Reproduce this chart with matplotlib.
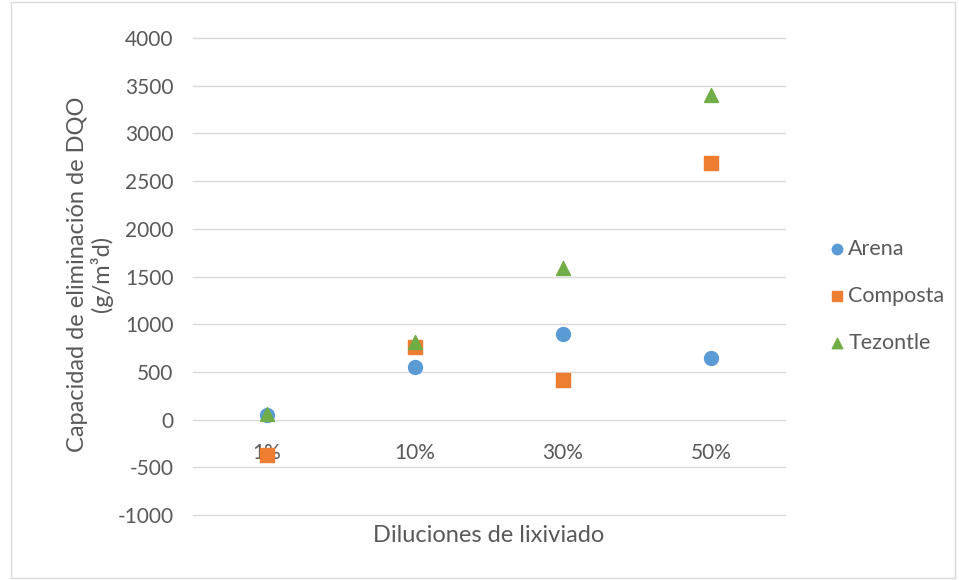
import matplotlib
matplotlib.use("Agg")
import matplotlib.pyplot as plt
from matplotlib.patches import Rectangle

plt.rcParams['font.family'] = ['Lato', 'DejaVu Sans']

categories = ["1%", "10%", "30%", "50%"]
arena = [45, 550, 900, 645]
composta = [-370, 760, 415, 2690]
tezontle = [55, 810, 1590, 3400]
y_ticks = [-1000, -500, 0, 500, 1000, 1500, 2000, 2500, 3000, 3500, 4000]

text_color = "#595959"
grid_color = "#D9D9D9"

fig = plt.figure(figsize=(9.59, 5.8), dpi=100)
fig.patches.append(Rectangle((0.011, 0.004), 0.985, 0.992, transform=fig.transFigure,
                             fill=False, edgecolor="#D9D9D9", linewidth=1))
ax = fig.add_axes([0.2013, 0.112, 0.6173, 0.8225])

x = list(range(1, len(categories) + 1))
ax.scatter(x, arena, marker="o", s=100, color="#5B9BD5", label="Arena", zorder=3)
ax.scatter(x, composta, marker="s", s=90, color="#ED7D31", label="Composta", zorder=3)
ax.scatter(x, tezontle, marker="^", s=100, color="#70AD47", label="Tezontle", zorder=3)

ax.set_xlim(0.5, len(categories) + 0.5)
ax.set_ylim(-1000, 4000)
ax.set_yticks(y_ticks)
ax.set_yticklabels([str(v) for v in y_ticks])
ax.yaxis.grid(True, color=grid_color, linewidth=1)
for gl in ax.get_ygridlines():
    gl.set_clip_on(False)
ax.set_axisbelow(True)

ax.set_xticks(x)
ax.set_xticklabels(categories)
ax.spines['bottom'].set_position(('data', 0))
for s in ["top", "right", "left", "bottom"]:
    ax.spines[s].set_visible(False)
ax.tick_params(axis="both", length=0, labelsize=15, colors=text_color)
ax.tick_params(axis="x", pad=17)
ax.tick_params(axis="y", pad=14)

ax.set_ylabel("Capacidad de eliminación de DQO\n(g/m³d)", fontsize=17,
              color=text_color, linespacing=1.1)
ax.yaxis.set_label_coords(-0.135, 0.505)
ax.text(0.5, -0.02, "Diluciones de lixiviado", transform=ax.transAxes,
        ha="center", va="top", fontsize=17, color=text_color)

leg = fig.legend(*ax.get_legend_handles_labels(), loc="center left",
                 bbox_to_anchor=(0.8665, (580 - 296) / 580), frameon=False,
                 fontsize=15.5, labelspacing=1.25, handletextpad=0.2,
                 handlelength=0.6, markerscale=0.75, borderpad=0, borderaxespad=0)
for t in leg.get_texts():
    t.set_color(text_color)

fig.savefig("out.png", dpi=100)
